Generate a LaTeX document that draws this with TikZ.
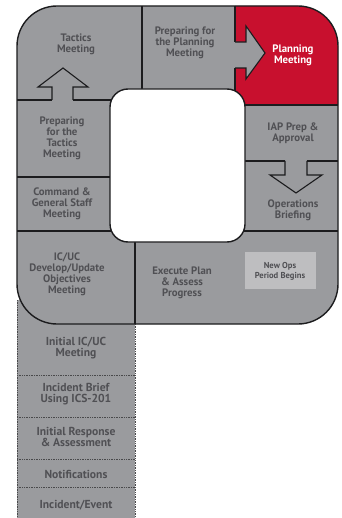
\documentclass[tikz,border=0pt]{standalone}
\usepackage{fontspec}
\setmainfont{PT Sans}
\definecolor{cellgray}{RGB}{154,155,158}
\definecolor{cellred}{RGB}{200,16,46}
\definecolor{boxgray}{RGB}{190,190,192}
\definecolor{inkgray}{RGB}{80,80,84}
\definecolor{edge}{RGB}{28,28,30}
\begin{document}
\begin{tikzpicture}[x=1pt,y=-1pt,
  label/.style={align=center,text=inkgray,font=\fontsize{10.8}{11}\selectfont\bfseries,inner sep=0pt},
  stemlabel/.style={label,font=\fontsize{11.6}{11.5}\selectfont\bfseries},
  divider/.style={draw=edge,line width=1.1pt},
  stemline/.style={draw=edge!80,line width=0.7pt,densely dotted},
  outline/.style={draw=edge,line width=1.4pt},
  arrowshape/.style={draw=edge,line width=1.1pt,line join=miter}]
\useasboundingbox (0,0) rectangle (341,518);
\fill[white] (0,0) rectangle (341,518);

% stem of the P
\fill[cellgray] (17,300) rectangle (135,518);
\draw[stemline] (17,300) -- (17,518);
\draw[stemline] (135,300) -- (135,518);
\foreach \yy in {375,417,459,487} \draw[stemline] (17,\yy) -- (135,\yy);

% loop of the P
\fill[cellgray,rounded corners=40pt] (17,6) rectangle (338,324);
\begin{scope}
  \clip[rounded corners=40pt] (17,6) rectangle (338,324);
  \fill[cellred] (235,0) rectangle (341,105);
\end{scope}

% dividers between the cells
\draw[divider] (142,6) -- (142,89);
\draw[divider] (235,6) -- (235,42);
\draw[divider] (235,68) -- (235,92);
\draw[divider] (240,105) -- (338,105);
\draw[divider] (17,100) -- (52,100);
\draw[divider] (73,100) -- (112,100);
\draw[divider] (17,177) -- (112,177);
\draw[divider] (17,231) -- (112,231);
\draw[divider] (243,161) -- (285,161);
\draw[divider] (307,161) -- (338,161);
\draw[divider] (243,231) -- (338,231);
\draw[divider] (135,240) -- (135,324);

% hollow arrows
\draw[arrowshape] (52,100) -- (52,87) -- (38,87) -- (63,68) -- (88,87) -- (73,87) -- (73,100);
\fill[cellgray] (235,42) -- (246,42) -- (246,26) -- (265,53) -- (246,79) -- (246,68) -- (235,68) -- cycle;
\draw[arrowshape] (235,42) -- (246,42) -- (246,26) -- (265,53) -- (246,79) -- (246,68) -- (235,68);
\draw[arrowshape] (285,161) -- (285,175) -- (270,175) -- (296,193) -- (322,175) -- (307,175) -- (307,161);

% outer contour and inner window
\draw[outline,rounded corners=40pt] (17,6) rectangle (338,324);
\filldraw[fill=white,outline,rounded corners=18pt] (110,89) rectangle (245,242);

% highlighted box
\fill[boxgray] (245,252) rectangle (316,289);

% cell labels
\node[label] (tactics) at (76,44) {Tactics\\Meeting};
\node[label] (prepplan) at (185,43) {Preparing for\\the Planning\\Meeting};
\node[label,text=white] (planning) at (293,55) {Planning\\Meeting};
\node[label] (preptac) at (62,138) {Preparing\\for the\\Tactics\\Meeting};
\node[label] (iap) at (293,133) {IAP Prep \&\\Approval};
\node[label] (cgs) at (62,204) {Command \&\\General Staff\\Meeting};
\node[label] (ops) at (293,210) {Operations\\Briefing};
\node[label] (obj) at (67,274) {IC/UC\\Develop/Update\\Objectives\\Meeting};
\node[label] (exec) at (182,283) {Execute Plan\\\& Assess\\Progress};
\node[label,font=\fontsize{8.6}{10}\selectfont\bfseries] (newops) at (280,271) {New Ops\\Period Begins};

% stem labels
\node[stemlabel] (initmeet) at (76,348) {Initial IC/UC\\Meeting};
\node[stemlabel] (brief) at (76,394) {Incident Brief\\Using ICS-201};
\node[stemlabel] (resp) at (76,437) {Initial Response\\\& Assessment};
\node[stemlabel] (notif) at (76,474) {Notifications};
\node[stemlabel] (event) at (76,505) {Incident/Event};
\end{tikzpicture}
\end{document}
